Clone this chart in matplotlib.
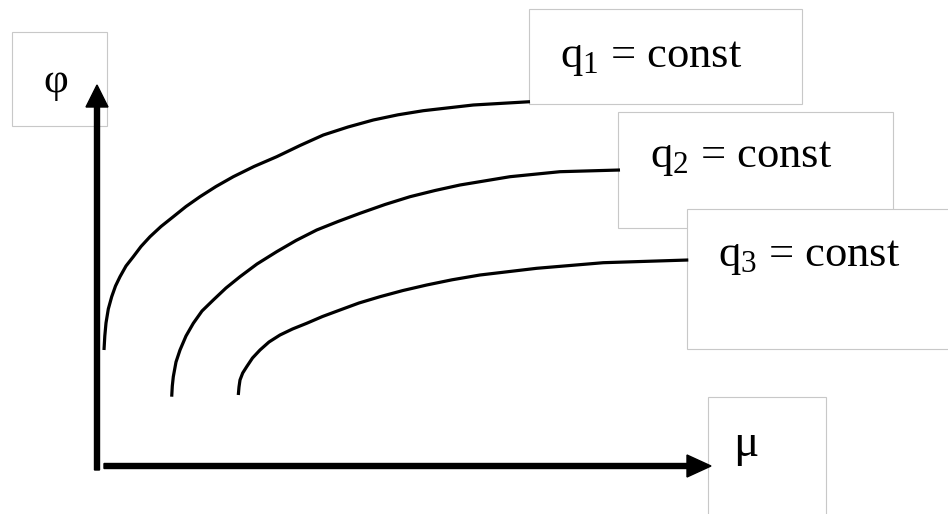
import matplotlib
matplotlib.use("Agg")
from matplotlib import pyplot as plt
from matplotlib.patches import Rectangle

plt.rcParams['font.family'] = ['Liberation Serif', 'DejaVu Serif']
plt.rcParams['mathtext.fontset'] = 'custom'
plt.rcParams['mathtext.rm'] = 'Liberation Serif'
plt.rcParams['mathtext.it'] = 'Liberation Serif:italic'

# curves (pixel coords, y down)
q1_x = [104, 104.8, 106, 108.3, 111.7, 115.5, 120, 126, 133.3, 141, 150, 161, 173.3,
        186, 200, 216, 233.3, 254, 276.7, 300, 323.3, 348, 373.3, 398, 423.3, 473.3, 530]
q1_y = [350, 336, 323, 309, 296.7, 286, 276.7, 266, 256.7, 246.5, 236.7, 226.5, 216.7,
        206.5, 196.7, 186.5, 176.7, 166.5, 156.7, 145.5, 135, 127, 120, 114.8, 110.7, 105, 101.7]

q2_x = [171.7, 172.3, 173.3, 176, 180, 186, 193.3, 202, 213.3, 226, 240, 257, 276.7,
        296, 316.7, 338, 360, 385, 410, 435, 460, 510, 560, 620]
q2_y = [396.7, 386, 376.7, 362, 350, 336, 323.3, 311, 300, 288, 276.7, 264, 251.7,
        240.5, 230, 221.5, 213.3, 204.5, 196.7, 190.5, 185, 176.7, 171.7, 170]

q3_x = [238.3, 239, 240, 242.7, 246.7, 252.5, 260, 269, 280, 292.5, 306.7, 322.5, 340,
        359, 380, 403, 426.7, 452, 480, 536.7, 603.3, 688.3]
q3_y = [395, 387, 380, 373, 366.7, 358, 350, 342, 335, 329, 323.3, 316.5, 310,
        303, 296.7, 290.5, 285, 279.8, 275, 268.3, 262.7, 260]

labels = [r'q$_{\mathrm{1}}$ = const', r'q$_{\mathrm{2}}$ = const', r'q$_{\mathrm{3}}$ = const']
y_label = 'φ'
x_label = 'μ'

fig = plt.figure(figsize=(9.48, 5.14), dpi=100)
ax = fig.add_axes([0, 0, 1, 1])
ax.set_xlim(0, 948)
ax.set_ylim(514, 0)
ax.axis('off')

box_col = '#c8c8c8'
# (x, y, w, h) of the text frames
boxes = [(12, 32, 95, 94), (529, 9, 273, 95), (618, 112, 275, 116),
         (687, 209, 270, 140), (708, 397, 118, 130)]
for i, (bx, by, bw, bh) in enumerate(boxes):
    ax.add_patch(Rectangle((bx, by), bw, bh, facecolor='white',
                           edgecolor=box_col, lw=0.8, zorder=1 + i * 0.1))

ax.text(560, 67, labels[0], fontsize=32, ha='left', va='baseline', zorder=3)
ax.text(650, 167, labels[1], fontsize=32, ha='left', va='baseline', zorder=3)
ax.text(718, 266, labels[2], fontsize=32, ha='left', va='baseline', zorder=3)
ax.text(43, 92, y_label, fontsize=31, ha='left', va='baseline', zorder=3)
ax.text(733, 456, x_label, fontsize=34, ha='left', va='baseline', zorder=3)

for xs, ys in [(q1_x, q1_y), (q2_x, q2_y), (q3_x, q3_y)]:
    ax.plot(xs, ys, color='black', lw=2.3, solid_capstyle='butt',
            solid_joinstyle='round', zorder=4)

# axes arrows
ax.arrow(97, 470, 0, -385, width=5, head_width=22, head_length=22,
         length_includes_head=True, color='black', zorder=5)
ax.arrow(104, 466, 607, 0, width=5, head_width=22, head_length=24,
         length_includes_head=True, color='black', zorder=5)

fig.savefig('out.png', dpi=100)
